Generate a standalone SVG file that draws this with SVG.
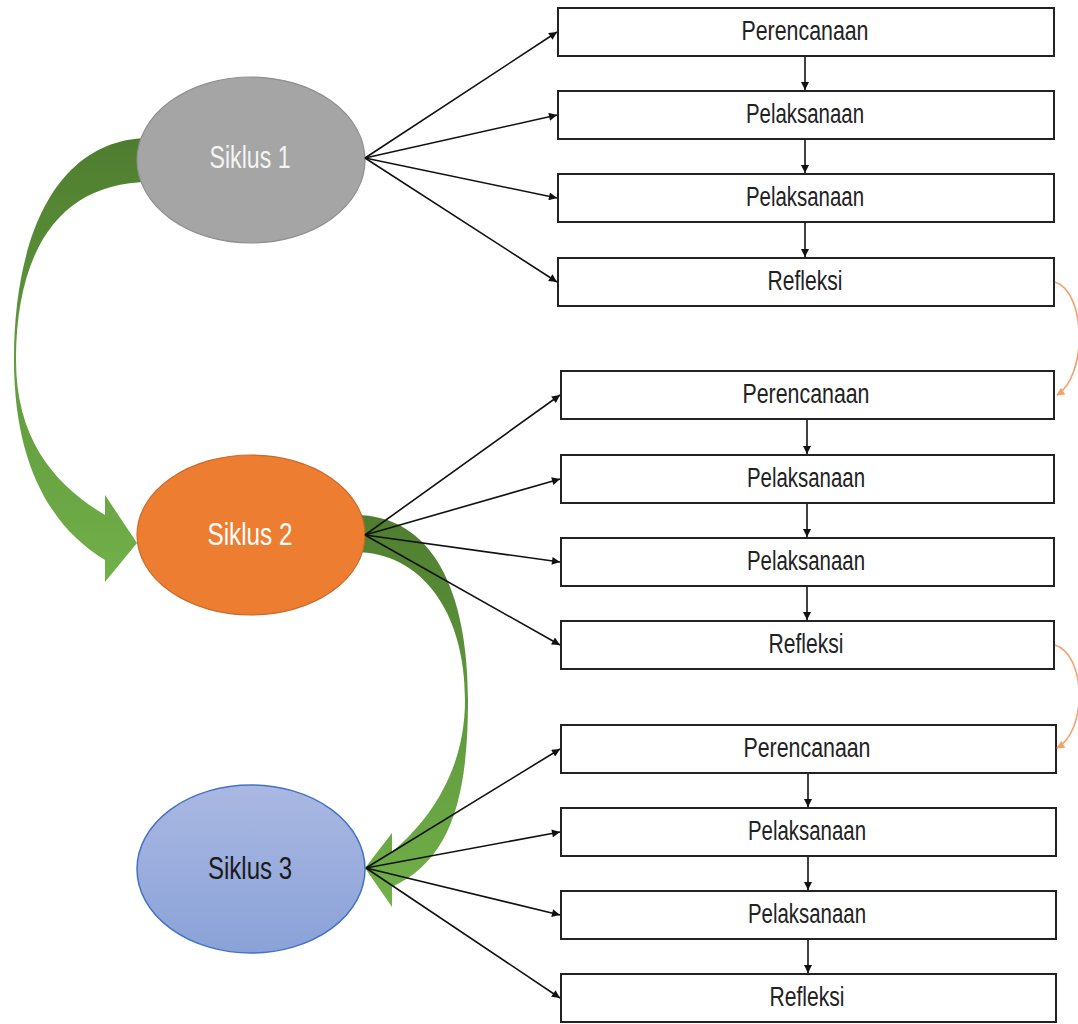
<svg xmlns="http://www.w3.org/2000/svg" width="1078" height="1024" viewBox="0 0 1078 1024">
<defs>
<linearGradient id="g1" x1="0" y1="0" x2="0" y2="1">
<stop offset="0" stop-color="#4f7d30"/><stop offset="0.5" stop-color="#5f9a3c"/><stop offset="1" stop-color="#72b04a"/>
</linearGradient>
<linearGradient id="g3" x1="0" y1="0" x2="0" y2="1">
<stop offset="0" stop-color="#aab8e2"/><stop offset="1" stop-color="#8aa2d8"/>
</linearGradient>
<marker id="ah" viewBox="0 0 10 10" refX="10" refY="5" markerWidth="10" markerHeight="8" markerUnits="userSpaceOnUse" orient="auto">
<path d="M0,0 L10,5 L0,10 Z" fill="#111"/>
</marker>
<marker id="ao" viewBox="0 0 10 10" refX="9" refY="5" markerWidth="9" markerHeight="8" markerUnits="userSpaceOnUse" orient="auto">
<path d="M0,0 L10,5 L0,10 Z" fill="#F4A26A"/>
</marker>
<style>
.box{fill:#fff;stroke:#222;stroke-width:2}
.bt{font-family:"Liberation Sans",Arial,sans-serif;font-size:27px;fill:#222;text-anchor:middle}
.et{font-family:"Liberation Sans",Arial,sans-serif;font-size:32px;text-anchor:middle}
.ln{stroke:#111;stroke-width:1.6;fill:none;marker-end:url(#ah)}
.or{stroke:#F4A26A;stroke-width:1.6;fill:none;marker-end:url(#ao)}
</style>
</defs>
<rect width="1078" height="1024" fill="#fff"/>
<g id="big-arrows">
<path d="M150,138 C60,138 14,230 14,360 C14,470 55,530 105,560 L105,582 L137,543 L105,495 L105,515 C55,485 16,440 16,360 C16,250 60,182 150,182 Z" fill="url(#g1)"/>
<path d="M355,515 C432,515 468,590 468,700 C468,800 450,860 392,887 L392,907 L365,868 L392,833 L392,852 C430,820 465,770 465,700 C465,610 420,552 355,552 Z" fill="url(#g1)"/>
</g>
<g id="siklus1"><ellipse cx="251" cy="160" rx="114" ry="83" fill="#A5A5A5" stroke="#8f8f8f" stroke-width="1.2"/><text class="et" x="250" y="168" fill="#f4f4f4" textLength="81" lengthAdjust="spacingAndGlyphs">Siklus 1</text></g>
<g id="siklus2"><ellipse cx="251" cy="535" rx="114" ry="80" fill="#ED7D31" stroke="#c96a2a" stroke-width="1.2"/><text class="et" x="250" y="545" fill="#fff" textLength="85" lengthAdjust="spacingAndGlyphs">Siklus 2</text></g>
<g id="siklus3"><ellipse cx="251" cy="869" rx="114" ry="84" fill="url(#g3)" stroke="#4472C4" stroke-width="1.5"/><text class="et" x="250" y="879" fill="#1a1a1a" textLength="84" lengthAdjust="spacingAndGlyphs">Siklus 3</text></g>
<g id="c1-perencanaan"><rect class="box" x="558" y="8" width="496" height="48"/><text class="bt" x="805" y="40" textLength="127" lengthAdjust="spacingAndGlyphs">Perencanaan</text></g>
<g id="c1-pelaksanaan1"><rect class="box" x="558" y="91" width="496" height="48"/><text class="bt" x="805" y="123" textLength="118" lengthAdjust="spacingAndGlyphs">Pelaksanaan</text></g>
<g id="c1-pelaksanaan2"><rect class="box" x="558" y="174" width="496" height="48"/><text class="bt" x="805" y="206" textLength="118" lengthAdjust="spacingAndGlyphs">Pelaksanaan</text></g>
<g id="c1-refleksi"><rect class="box" x="558" y="258" width="496" height="48"/><text class="bt" x="805" y="290" textLength="75" lengthAdjust="spacingAndGlyphs">Refleksi</text></g>
<g id="c2-perencanaan"><rect class="box" x="561" y="371" width="493" height="48"/><text class="bt" x="806" y="403" textLength="127" lengthAdjust="spacingAndGlyphs">Perencanaan</text></g>
<g id="c2-pelaksanaan1"><rect class="box" x="561" y="455" width="493" height="48"/><text class="bt" x="806" y="487" textLength="118" lengthAdjust="spacingAndGlyphs">Pelaksanaan</text></g>
<g id="c2-pelaksanaan2"><rect class="box" x="561" y="538" width="493" height="48"/><text class="bt" x="806" y="570" textLength="118" lengthAdjust="spacingAndGlyphs">Pelaksanaan</text></g>
<g id="c2-refleksi"><rect class="box" x="561" y="621" width="493" height="48"/><text class="bt" x="806" y="653" textLength="75" lengthAdjust="spacingAndGlyphs">Refleksi</text></g>
<g id="c3-perencanaan"><rect class="box" x="561" y="725" width="495" height="48"/><text class="bt" x="807" y="757" textLength="127" lengthAdjust="spacingAndGlyphs">Perencanaan</text></g>
<g id="c3-pelaksanaan1"><rect class="box" x="561" y="808" width="495" height="48"/><text class="bt" x="807" y="840" textLength="118" lengthAdjust="spacingAndGlyphs">Pelaksanaan</text></g>
<g id="c3-pelaksanaan2"><rect class="box" x="561" y="891" width="495" height="48"/><text class="bt" x="807" y="923" textLength="118" lengthAdjust="spacingAndGlyphs">Pelaksanaan</text></g>
<g id="c3-refleksi"><rect class="box" x="561" y="974" width="495" height="48"/><text class="bt" x="807" y="1006" textLength="75" lengthAdjust="spacingAndGlyphs">Refleksi</text></g>
<g id="connectors">
<path class="ln" d="M365,158 L557,32"/>
<path class="ln" d="M365,158 L557,115"/>
<path class="ln" d="M365,158 L557,198"/>
<path class="ln" d="M365,158 L557,282"/>
<path class="ln" d="M365,535 L560,395"/>
<path class="ln" d="M365,535 L560,479"/>
<path class="ln" d="M365,535 L560,562"/>
<path class="ln" d="M365,535 L560,645"/>
<path class="ln" d="M366,868 L560,749"/>
<path class="ln" d="M366,868 L560,832"/>
<path class="ln" d="M366,868 L560,915"/>
<path class="ln" d="M366,868 L560,998"/>
<path class="ln" d="M805,57 L805,90"/>
<path class="ln" d="M805,140 L805,173"/>
<path class="ln" d="M805,223 L805,257"/>
<path class="ln" d="M807,420 L807,454"/>
<path class="ln" d="M807,504 L807,537"/>
<path class="ln" d="M807,587 L807,620"/>
<path class="ln" d="M808,774 L808,807"/>
<path class="ln" d="M808,857 L808,890"/>
<path class="ln" d="M808,940 L808,973"/>
<path class="or" d="M1055,282 C1086,292 1088,375 1057,395"/>
<path class="or" d="M1055,645 C1086,655 1088,730 1057,748"/>
</g>
</svg>
